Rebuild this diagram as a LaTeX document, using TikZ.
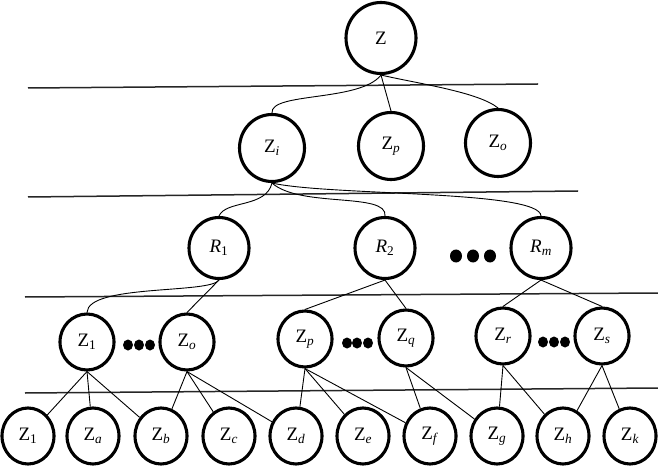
\documentclass[tikz,border=0pt]{standalone}
\usepackage{fontspec}
\setmainfont{Liberation Serif}
\usetikzlibrary{shapes.geometric}
\newcommand\zsub[1]{Z\textsubscript{\textit{#1}}}
\newcommand\znum[1]{Z\textsubscript{#1}}
\begin{document}
\begin{tikzpicture}[x=1pt,y=-1pt,
  nd/.style={draw,ellipse,line width=3.1pt,inner sep=0pt,font=\fontsize{19}{22}\selectfont},
  big/.style={nd,minimum width=70pt,minimum height=71pt},
  mid/.style={nd,minimum width=65pt,minimum height=67pt},
  rr/.style={nd,minimum width=60pt,minimum height=61pt},
  l4/.style={nd,minimum width=54pt,minimum height=56pt},
  l5/.style={nd,minimum width=52pt,minimum height=56pt},
  edge/.style={line width=0.9pt},
  band/.style={line width=1.5pt,draw=black!85},
  dot/.style={fill=black,ellipse,inner sep=0pt,minimum width=10pt,minimum height=11pt}]
\useasboundingbox (0,0) rectangle (658,470);
% separating lines
\draw[band] (28,88) -- (538,84);
\draw[band] (28,197) -- (578,191);
\draw[band] (25,297) -- (658,293);
\draw[band] (25,393) -- (658,388);
% nodes
\node[big] (Z) at (381,38) {Z};
\node[mid] (Zi) at (272,148) {\zsub{i}};
\node[mid] (Zp) at (391,146) {\zsub{p}};
\node[mid] (Zo) at (498,143) {\zsub{o}};
\node[rr] (R1) at (219,248) {\textit{R}\textsubscript{1}};
\node[rr] (R2) at (385,248) {\textit{R}\textsubscript{2}};
\node[rr] (Rm) at (541,248) {\textit{R}\textsubscript{\textit{m}}};
\node[l4] (A1) at (87,342) {\znum{1}};
\node[l4] (A2) at (187,342) {\zsub{o}};
\node[l4] (A3) at (305,339) {\zsub{p}};
\node[l4] (A4) at (406,338) {\zsub{q}};
\node[l4] (A5) at (503,336) {\zsub{r}};
\node[l4] (A6) at (602,336) {\zsub{s}};
\node[l5] (B1) at (28,436) {\znum{1}};
\node[l5] (B2) at (93,436) {\zsub{a}};
\node[l5] (B3) at (161,436) {\zsub{b}};
\node[l5] (B4) at (229,436) {\zsub{c}};
\node[l5] (B5) at (296,436) {\zsub{d}};
\node[l5] (B6) at (363,436) {\zsub{e}};
\node[l5] (B7) at (430,436) {\zsub{f}};
\node[l5] (B8) at (497,436) {\zsub{g}};
\node[l5] (B9) at (563,436) {\zsub{h}};
\node[l5] (B10) at (630,436) {\zsub{k}};
% dots
\foreach \x/\n in {456/a,473/b,490/c} \node[dot,minimum width=12pt,minimum height=13pt] (d1\n) at (\x,256) {};
\foreach \x/\n in {128/a,139/b,150/c} \node[dot] (d2\n) at (\x,345) {};
\foreach \x/\n in {347/a,357/b,368/c} \node[dot] (d3\n) at (\x,343) {};
\foreach \x/\n in {543/a,554/b,565/c} \node[dot] (d4\n) at (\x,342) {};
% top edges
\draw[edge] (Z.south) .. controls (360,102) and (270,92) .. (Zi.north);
\draw[edge] (Z.south) -- (Zp.north);
\draw[edge] (Z.south) .. controls (420,84) and (478,92) .. (Zo.north);
% Zi to R
\draw[edge] (Zi.south) .. controls (266,208) and (226,200) .. (R1.north);
\draw[edge] (Zi.south) .. controls (300,208) and (388,192) .. (R2.north);
\draw[edge] (Zi.south) .. controls (330,196) and (540,190) .. (Rm.north);
% R to level 4
\draw[edge] (R1.south) .. controls (210,294) and (88,284) .. (A1.north);
\draw[edge] (R1.south) -- (A2.north);
\draw[edge] (R2.south) -- (A3.north);
\draw[edge] (R2.south) -- (A4.north);
\draw[edge] (Rm.south) -- (A5.north);
\draw[edge] (Rm.south) -- (A6.north);
% level 4 to level 5
\foreach \a/\b in {A1/B1,A1/B2,A1/B3,A2/B3,A2/B4,A2/B5,A3/B5,A3/B6,A3/B7,A4/B7,A4/B8,A5/B8,A5/B9,A6/B9,A6/B10}
  \draw[edge] (\a.south) -- (\b);
\end{tikzpicture}
\end{document}
